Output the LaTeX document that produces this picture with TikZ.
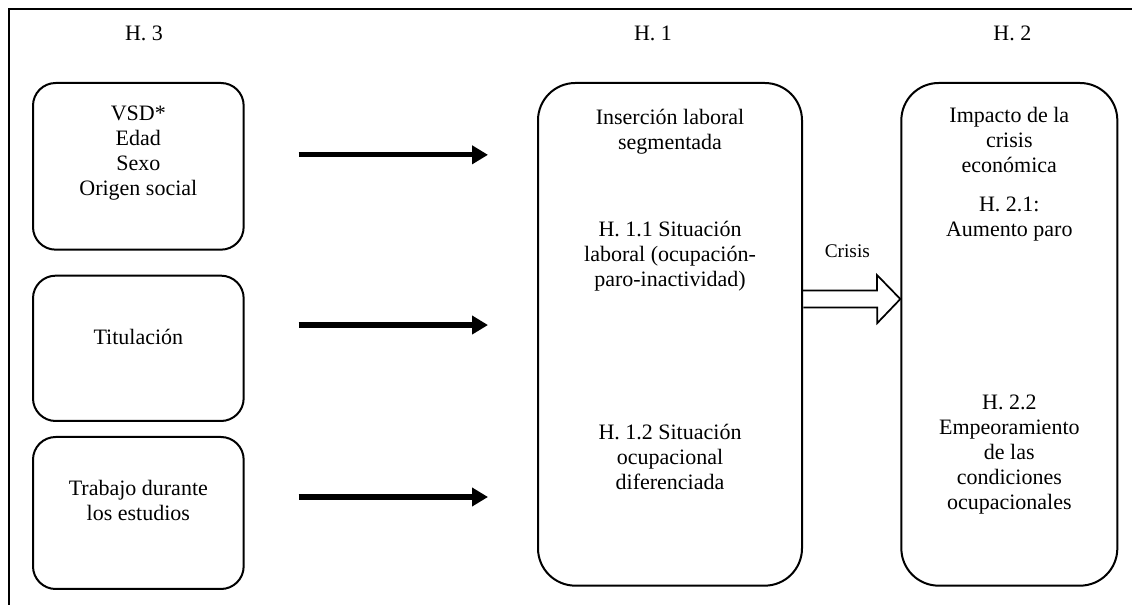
\documentclass[tikz,border=0pt]{standalone}
\usepackage{fontspec}
\setmainfont{Liberation Serif}
\usepackage{tikz}
\usetikzlibrary{arrows.meta, positioning}
\tikzstyle{inbox} = [rectangle, rounded corners=17pt, draw, line width=1.5pt, minimum width=158pt, anchor=north west, inner sep=0pt]
\tikzstyle{outbox} = [rectangle, rounded corners=28pt, draw, line width=1.5pt, minimum height=377pt, anchor=north west, inner sep=0pt]
\tikzstyle{txt} = [align=center, anchor=base, inner sep=0pt, font=\fontsize{16.5}{18.75}\selectfont]
\tikzstyle{feed} = [line width=3.8pt, -{Triangle[length=12pt, width=13.5pt]}]
\tikzstyle{hollow} = [line width=1.3pt, line join=miter]

\begin{document}
\begin{tikzpicture}[x=0.75pt, y=0.75pt]
        \useasboundingbox (0,0) rectangle (1132,-605);
        \draw [line width=1.6pt] (9,-605) -- (9,-9) -- (1132,-9);

        % Boxes
        \node (vsd) [inbox, minimum height=125pt] at (32,-82) {};
        \node (tit) [inbox, minimum height=109pt, below=18pt of vsd] {};
        \node (trab) [inbox, minimum height=114pt, below=10.5pt of tit] {};
        \node (ins) [outbox, minimum width=198pt] at (537,-82) {};
        \node (imp) [outbox, minimum width=162pt, right=73pt of ins] {};

        % Headers
        \node (h3) [txt] at ([shift={(5.7,41)}]vsd.north) {H. 3};
        \node (h1) [txt] at ([shift={(-17,41)}]ins.north) {H. 1};
        \node (h2) [txt] at ([shift={(3,41)}]imp.north) {H. 2};

        % Texts (base = last line)
        \node (tvsd) [txt] at ([yshift=-85.5pt]vsd.north) {VSD*\\Edad\\Sexo\\Origen social};
        \node (ttit) [txt] at ([yshift=-52.5pt]tit.north) {Titulación};
        \node (ttrab) [txt] at ([yshift=-63.75pt]trab.north) {Trabajo durante\\los estudios};
        \node (tins) [txt] at ([yshift=-51pt]ins.north) {Inserción laboral\\segmentada};
        \node (t11) [txt] at ([yshift=-153.75pt]ins.north) {H. 1.1 Situación\\laboral (ocupación-\\paro-inactividad)};
        \node (t12) [txt] at ([yshift=-306pt]ins.north) {H. 1.2 Situación\\ocupacional\\diferenciada};
        \node (timp) [txt] at ([yshift=-68.25pt]imp.north) {Impacto de la\\crisis\\económica};
        \node (t21) [txt] at ([yshift=-116.25pt]imp.north) {H. 2.1:\\Aumento paro};
        \node (t22) [txt] at ([yshift=-321pt]imp.north) {H. 2.2\\Empeoramiento\\de las\\condiciones\\ocupacionales};

        % Arrows
        \coordinate (a1) at ([shift={(54,11.5)}]vsd.east);
        \coordinate (a2) at ([shift={(54,23.3)}]tit.east);
        \coordinate (a3) at ([shift={(54,16)}]trab.east);
        \draw [feed, shorten >=36.75pt] (a1) -- (a1 -| ins.west);
        \draw [feed, shorten >=36.75pt] (a2) -- (a2 -| ins.west);
        \draw [feed, shorten >=36.75pt] (a3) -- (a3 -| ins.west);

        % Crisis arrow
        \draw [hollow] ([shift={(0,43.8)}]ins.east) -- ++(74,0) -- ++(0,15.5) -- ([shift={(0,35.3)}]imp.west) -- ++(-23,-24) -- ++(0,15.5) -- ++(-74,0);
        \node (cris) [txt, anchor=center, font=\fontsize{14.5}{17}\selectfont] at ([shift={(-53,83.5)}]imp.west) {Crisis};
\end{tikzpicture}
\end{document}
